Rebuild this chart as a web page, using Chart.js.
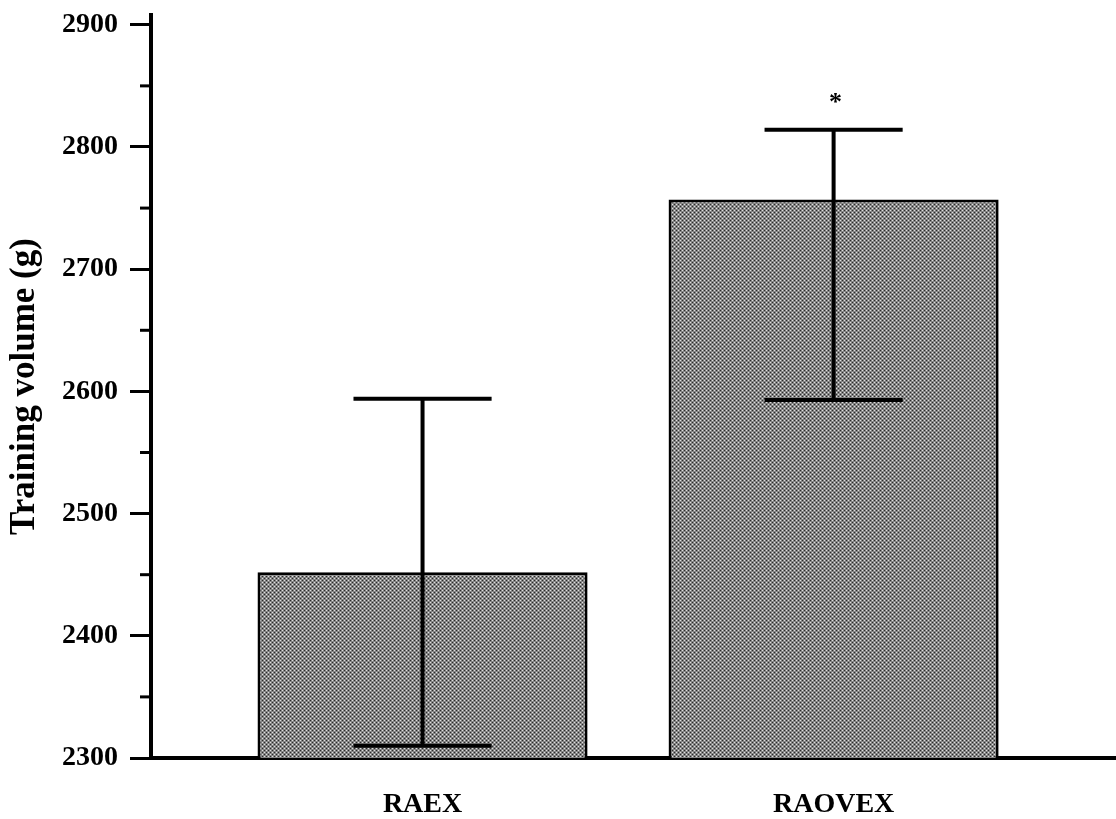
<!DOCTYPE html>
<html>
<head>
<meta charset="utf-8">
<script src="https://cdn.jsdelivr.net/npm/chart.js@4/dist/chart.umd.min.js"></script>
<style>
  html, body { margin: 0; padding: 0; background: #fff; }
</style>
</head>
<body>
<canvas id="barChart" width="1116" height="819"></canvas>
<script>
// data
const categories = ['RAEX', 'RAOVEX'];
const means = [2452, 2757];
const errUpper = [2594, 2814];
const errLower = [2310, 2593];
const sigLabels = ['', '*'];
const yTicks = [2300, 2350, 2400, 2450, 2500, 2550, 2600, 2650, 2700, 2750, 2800, 2850, 2900];

const font = 'Liberation Serif';

// grey dotted fill like the original
function makePattern() {
  const c = document.createElement('canvas');
  c.width = 4;
  c.height = 4;
  const g = c.getContext('2d');
  g.fillStyle = '#858585';
  g.fillRect(0, 0, 4, 4);
  g.fillStyle = '#e0e0e0';
  g.fillRect(0, 0, 1, 1);
  g.fillRect(2, 2, 1, 1);
  g.fillStyle = '#2a2a2a';
  g.fillRect(2, 0, 1, 1);
  g.fillRect(0, 2, 1, 1);
  return g.createPattern(c, 'repeat');
}

const errorBars = {
  id: 'errorBars',
  afterDatasetsDraw(chart) {
    const { ctx, scales: { x, y } } = chart;
    ctx.save();
    ctx.strokeStyle = '#000';
    ctx.lineWidth = 4;
    ctx.lineCap = 'butt';
    categories.forEach((c, i) => {
      const cx = x.getPixelForValue(i + 1);
      const half = x.getPixelForValue(i + 1 + 0.168) - cx;
      const top = y.getPixelForValue(errUpper[i]);
      const bot = y.getPixelForValue(errLower[i]);
      ctx.beginPath();
      ctx.moveTo(cx, top - 2);
      ctx.lineTo(cx, bot + 2);
      ctx.moveTo(cx - half, top);
      ctx.lineTo(cx + half, top);
      ctx.moveTo(cx - half, bot);
      ctx.lineTo(cx + half, bot);
      ctx.stroke();
      if (sigLabels[i]) {
        ctx.fillStyle = '#000';
        ctx.font = 'bold 26px "' + font + '"';
        ctx.textAlign = 'center';
        ctx.textBaseline = 'middle';
        ctx.fillText(sigLabels[i], cx + 2, top - 27);
      }
    });
    // short minor ticks on the y axis
    ctx.lineWidth = 3;
    yTicks.forEach(v => {
      if (v % 100 === 0) return;
      const py = y.getPixelForValue(v);
      ctx.beginPath();
      ctx.moveTo(x.left - 11, py);
      ctx.lineTo(x.left, py);
      ctx.stroke();
    });
    ctx.restore();
  }
};

new Chart(document.getElementById('barChart'), {
  type: 'bar',
  data: {
    datasets: [
      {
        data: categories.map((c, i) => ({ x: i + 1, y: means[i] })),
        backgroundColor: makePattern(),
        borderColor: '#000',
        borderWidth: 3,
        borderSkipped: false,
        barPercentage: 0.803,
        categoryPercentage: 1,
      },
    ],
  },
  options: {
    responsive: false,
    animation: false,
    layout: { padding: { top: 15, right: 0, bottom: 0, left: 0 } },
    scales: {
      x: {
        type: 'linear',
        offset: false,
        min: 0.3394,
        max: 2.687,
        afterBuildTicks: s => { s.ticks = categories.map((c, i) => ({ value: i + 1 })); },
        afterFit: s => { s.height = 61; s.paddingLeft = 0; s.paddingRight = 0; },
        border: { display: true, color: '#000', width: 4 },
        grid: { display: false, drawTicks: false, offset: false },
        ticks: {
          padding: 30,
          color: '#000',
          font: { family: font, size: 28, weight: 'bold' },
          callback: v => categories[v - 1] || '',
        },
      },
      y: {
        min: 2300,
        max: 2908,
        afterBuildTicks: s => { s.ticks = yTicks.map(v => ({ value: v })); },
        afterFit: s => { s.width = 151; s.paddingTop = 0; s.paddingBottom = 0; },
        border: { display: true, color: '#000', width: 4 },
        grid: {
          drawOnChartArea: false,
          drawTicks: true,
          tickLength: 21,
          tickWidth: 3,
          tickColor: c => (c.tick && c.tick.value % 100 === 0 ? '#000' : 'rgba(0,0,0,0)'),
        },
        ticks: {
          padding: 12,
          color: '#000',
          font: { family: font, size: 28, weight: 'bold' },
          callback: v => (v % 100 === 0 ? String(v) : ''),
        },
        title: {
          display: true,
          text: 'Training volume (g)',
          color: '#000',
          font: { family: font, size: 35, weight: 'bold' },
          padding: { top: 4, bottom: 0 },
        },
      },
    },
    plugins: {
      legend: { display: false },
      tooltip: { enabled: false },
    },
  },
  plugins: [errorBars],
});
</script>
</body>
</html>
